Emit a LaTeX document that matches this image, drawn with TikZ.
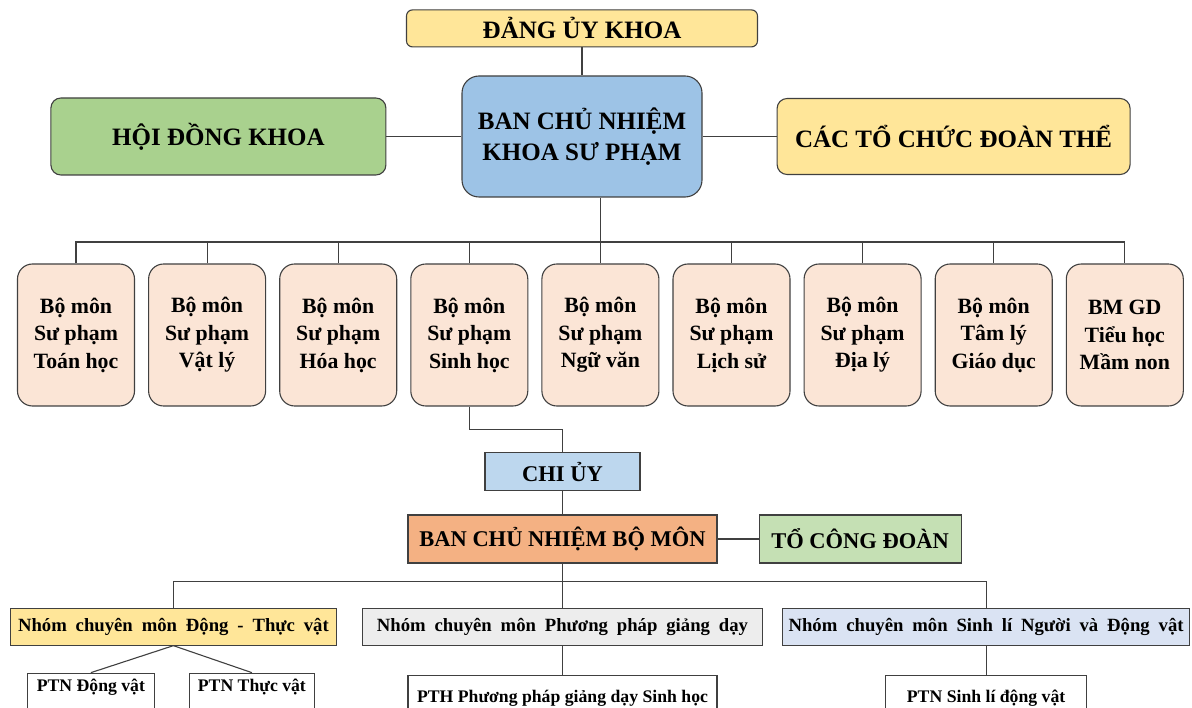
\documentclass[tikz,border=0pt]{standalone}
\usepackage{fontspec}
\setmainfont{Liberation Serif}
\newfontfamily\nhomfont{Liberation Serif}[WordSpace=1.9]
\usetikzlibrary{positioning,calc}
\definecolor{cyellow}{HTML}{FFE699}
\definecolor{cblue}{HTML}{9DC3E6}
\definecolor{cgreen}{HTML}{A9D18E}
\definecolor{cpeach}{HTML}{FBE5D6}
\definecolor{clblue}{HTML}{BDD7EE}
\definecolor{corange}{HTML}{F4B183}
\definecolor{clgreen}{HTML}{C5E0B4}
\definecolor{cgray}{HTML}{EDEDED}
\definecolor{cblgray}{HTML}{DAE3F3}
\definecolor{cline}{HTML}{404040}
\tikzstyle{box}=[draw=cline, line width=1.1pt, align=center, inner sep=0pt]
\tikzstyle{topbox}=[box, rounded corners=10pt, font=\bfseries\fontsize{25}{30.7}\selectfont]
\tikzstyle{dept}=[box, rounded corners=15pt, fill=cpeach, minimum width=117pt, minimum height=142pt, font=\bfseries\fontsize{21.8}{27.5}\selectfont]
\tikzstyle{unit}=[box, minimum height=48pt, font=\bfseries\fontsize{22.5}{26}\selectfont]
\tikzstyle{group}=[box, minimum height=37pt, font=\nhomfont\bfseries\fontsize{18.7}{22}\selectfont]
\tikzstyle{lab}=[box, fill=white, text depth=28pt, font=\bfseries\fontsize{17.7}{20}\selectfont]
\tikzstyle{line}=[draw=cline, line width=1.1pt]

\begin{document}
\begin{tikzpicture}[x=1pt,y=-1pt]
\useasboundingbox (0,0) rectangle (1192,708);
\clip (0,0) rectangle (1192,708);
% khoa
\node (bcn) [topbox, fill=cblue, rounded corners=17pt, minimum width=240pt, minimum height=121pt] at (582,136.5) {BAN CHỦ NHIỆM\\KHOA SƯ PHẠM};
\node (dang) [topbox, fill=cyellow, rounded corners=6pt, minimum width=351pt, minimum height=37pt, above=28pt of bcn] {ĐẢNG ỦY KHOA};
\node (hd) [topbox, fill=cgreen, minimum width=335pt, minimum height=77pt, left=75pt of bcn] {HỘI ĐỒNG KHOA};
\node (ctc) [topbox, fill=cyellow, minimum width=353pt, minimum height=76pt, right=74pt of bcn] {CÁC TỔ CHỨC ĐOÀN THỂ};
% bo mon
\node (bm1) [dept] at (76,335) {Bộ môn\\Sư phạm\\Toán học};
\node (bm2) [dept, right=13pt of bm1] {Bộ môn\\Sư phạm\\Vật lý};
\node (bm3) [dept, right=13pt of bm2] {Bộ môn\\Sư phạm\\Hóa học};
\node (bm4) [dept, right=13pt of bm3] {Bộ môn\\Sư phạm\\Sinh học};
\node (bm5) [dept, right=13pt of bm4] {Bộ môn\\Sư phạm\\Ngữ văn};
\node (bm6) [dept, right=13pt of bm5] {Bộ môn\\Sư phạm\\Lịch sử};
\node (bm7) [dept, right=13pt of bm6] {Bộ môn\\Sư phạm\\Địa lý};
\node (bm8) [dept, right=13pt of bm7] {Bộ môn\\Tâm lý\\Giáo dục};
\node (bm9) [dept, right=13pt of bm8] {BM GD\\Tiểu học\\Mầm non};
\coordinate (bus) at (593,242);
% bo mon sinh hoc
\node (bcnbm) [unit, fill=corange, minimum width=309pt] at (562.5,539) {BAN CHỦ NHIỆM BỘ MÔN};
\node (chiuy) [unit, fill=clblue, minimum width=155pt, minimum height=38pt, above=23pt of bcnbm] {CHI ỦY};
\node (tcd) [unit, fill=clgreen, minimum width=202pt, right=41pt of bcnbm] {TỔ CÔNG ĐOÀN};
\coordinate[above=23pt of chiuy] (bend);
\coordinate[below=18pt of bcnbm] (bus2);
\node (n2) [group, fill=cgray, minimum width=400pt, below=44pt of bcnbm] {Nhóm chuyên môn Phương pháp giảng dạy};
\node (n1) [group, fill=cyellow, minimum width=326pt, left=25pt of n2] {Nhóm chuyên môn Động - Thực vật};
\node (n3) [group, fill=cblgray, minimum width=407pt, right=19pt of n2] {Nhóm chuyên môn Sinh lí Người và Động vật};
\node (p1) [lab, text height=18pt, minimum width=127pt, below=27pt of n1, xshift=-82.5pt] {PTN Động vật};
\node (p2) [lab, text height=18pt, minimum width=125pt, below=27pt of n1, xshift=78.5pt] {PTN Thực vật};
\node (p3) [lab, text height=27pt, minimum width=309pt, below=29pt of n2] {PTH Phương pháp giảng dạy Sinh học};
\node (p4) [lab, text height=27pt, minimum width=201pt, below=29pt of n3] {PTN Sinh lí động vật};
\path[line]
	(dang) edge (bcn)
	(hd) edge (bcn)
	(bcn) edge (ctc)
	(chiuy) edge (bcnbm)
	(bcnbm) edge (tcd)
	(bcnbm) edge (n2)
	(n1.south) edge (p1.north)
	(n1.south) edge (p2.north)
	(n2) edge (p3)
	(n3) edge (p4);
\draw[line] (bcn.south -| bm5) -- (bm5.north);
\draw[line] (bm1.north) -- (bm1 |- bus) -- (bm9 |- bus) -- (bm9.north);
\path[line]
	(bm2.north) edge (bm2 |- bus)
	(bm3.north) edge (bm3 |- bus)
	(bm4.north) edge (bm4 |- bus)
	(bm6.north) edge (bm6 |- bus)
	(bm7.north) edge (bm7 |- bus)
	(bm8.north) edge (bm8 |- bus);
\draw[line] (bm4.south) |- (bend) -- (chiuy.north);
\draw[line] (n1.north) |- (bus2) -| (n3.north);
\end{tikzpicture}
\end{document}
